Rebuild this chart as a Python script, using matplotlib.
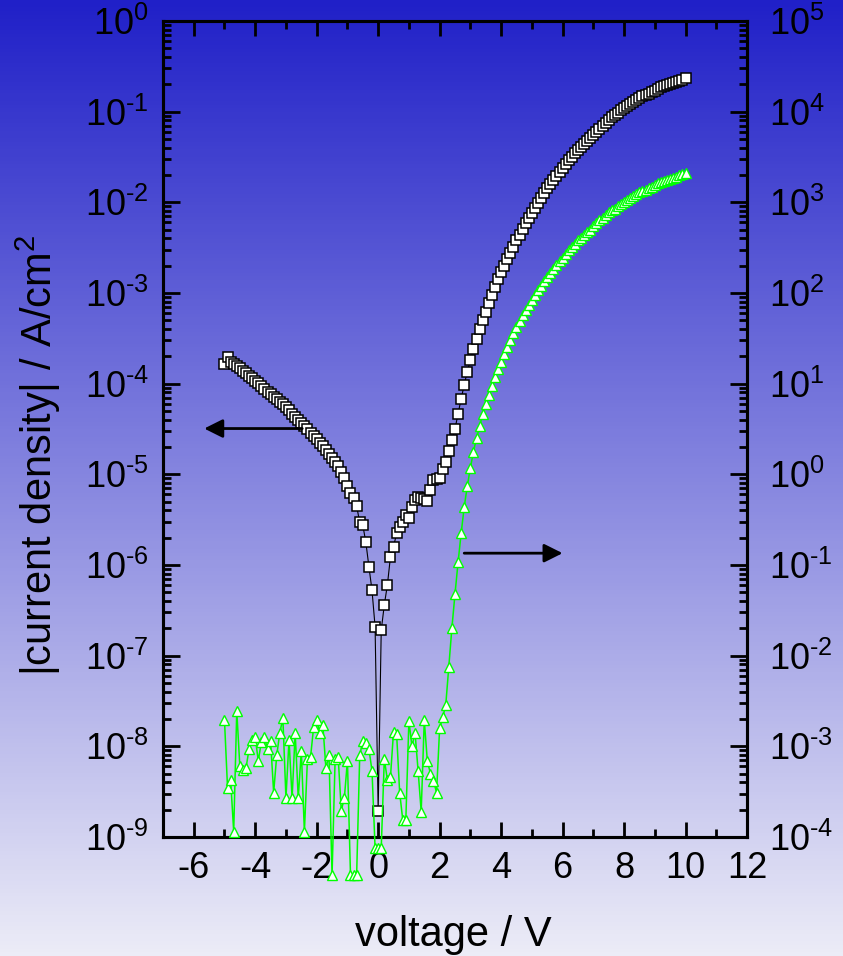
import matplotlib
matplotlib.use("Agg")
import matplotlib.pyplot as plt
import numpy as np
from matplotlib.ticker import FixedLocator, LogLocator, NullFormatter, FuncFormatter

plt.rcParams['font.family'] = ['Liberation Sans', 'DejaVu Sans']
plt.rcParams['mathtext.fontset'] = 'custom'
plt.rcParams['mathtext.rm'] = 'Liberation Sans'
plt.rcParams['axes.unicode_minus'] = False

# voltage sweep, 0.1 V steps from -5 V to 10 V
voltage = np.linspace(-5.0, 10.0, 151)

# log10 |current density| (A/cm2), left axis, black squares
log_j_black = [
    -3.78, -3.71, -3.76, -3.78, -3.80, -3.83, -3.86, -3.88, -3.92, -3.94,
    -3.97, -3.99, -4.03, -4.06, -4.09, -4.11, -4.15, -4.17, -4.20, -4.22,
    -4.26, -4.29, -4.33, -4.37, -4.40, -4.43, -4.47, -4.50, -4.54, -4.58,
    -4.61, -4.65, -4.69, -4.73, -4.78, -4.82, -4.86, -4.91, -4.97, -5.04,
    -5.13, -5.21, -5.26, -5.35, -5.53, -5.56, -5.75, -6.02, -6.28, -6.68,
    -8.71, -6.72, -6.44, -6.22, -5.91, -5.80, -5.65, -5.58, -5.53, -5.45,
    -5.48, -5.36, -5.28, -5.25, -5.26, -5.27, -5.29, -5.17, -5.06, -5.05,
    -5.04, -4.94, -4.86, -4.74, -4.62, -4.50, -4.33, -4.17, -4.01, -3.87,
    -3.74, -3.62, -3.51, -3.40, -3.30, -3.21, -3.11, -3.02, -2.93, -2.85,
    -2.77, -2.70, -2.62, -2.56, -2.49, -2.42, -2.36, -2.29, -2.23, -2.17,
    -2.12, -2.06, -2.01, -1.95, -1.90, -1.84, -1.80, -1.75, -1.71, -1.67,
    -1.62, -1.58, -1.53, -1.50, -1.46, -1.42, -1.39, -1.36, -1.32, -1.29,
    -1.26, -1.22, -1.19, -1.16, -1.12, -1.09, -1.06, -1.04, -1.01, -0.98,
    -0.96, -0.94, -0.92, -0.89, -0.87, -0.85, -0.83, -0.82, -0.80, -0.78,
    -0.77, -0.75, -0.73, -0.72, -0.71, -0.69, -0.68, -0.67, -0.66, -0.65, -0.63,
]

# log10 values on the right axis, green triangles
log_green = [
    -2.71, -3.46, -3.37, -3.94, -2.61, -3.22, -3.26, -3.24, -3.03, -2.93,
    -2.90, -3.16, -2.95, -2.90, -3.03, -2.94, -3.51, -3.10, -2.85, -2.69,
    -3.57, -2.93, -3.57, -2.85, -3.57, -3.05, -3.94, -3.14, -3.12, -2.79,
    -2.71, -2.85, -2.76, -3.24, -3.10, -4.42, -3.14, -3.12, -3.71, -3.57,
    -3.16, -4.42, -4.42, -4.42, -3.10, -2.94, -2.96, -3.03, -3.27, -4.12,
    -4.12, -4.12, -3.14, -3.37, -3.34, -2.84, -2.86, -3.51, -3.81, -3.81,
    -2.72, -3.00, -2.85, -3.27, -3.72, -2.71, -3.16, -3.30, -3.38, -3.51,
    -2.80, -2.68, -2.54, -2.12, -1.69, -1.32, -0.97, -0.65, -0.36, -0.13,
    0.07, 0.25, 0.40, 0.53, 0.67, 0.78, 0.88, 0.97, 1.07, 1.16,
    1.24, 1.33, 1.40, 1.48, 1.56, 1.63, 1.69, 1.76, 1.81, 1.87,
    1.92, 1.98, 2.03, 2.08, 2.13, 2.18, 2.22, 2.27, 2.31, 2.35,
    2.39, 2.43, 2.47, 2.51, 2.54, 2.58, 2.61, 2.64, 2.67, 2.70,
    2.74, 2.77, 2.80, 2.83, 2.86, 2.89, 2.91, 2.93, 2.96, 2.98,
    3.00, 3.03, 3.05, 3.07, 3.09, 3.11, 3.13, 3.14, 3.16, 3.17,
    3.19, 3.21, 3.22, 3.24, 3.25, 3.26, 3.27, 3.28, 3.30, 3.31, 3.32,
]

x_ticks = [-6, -4, -2, 0, 2, 4, 6, 8, 10, 12]
left_exps = list(range(-9, 1))
right_exps = list(range(-4, 6))

# arrows (x tail, x tip, y) in left-axis data units
arrow_left = (-2.47, -5.66, 3.2e-5)
arrow_right = (2.80, 6.0, 1.35e-6)

fig = plt.figure(figsize=(8.43, 9.56), dpi=100)

# gradient background
bg = fig.add_axes([0, 0, 1, 1], zorder=-10)
top = np.array([32, 32, 200]) / 255
bot = np.array([236, 236, 247]) / 255
t = np.linspace(0, 1, 256)[:, None]
grad = (top[None, :] * (1 - t) + bot[None, :] * t)[:, None, :]
bg.imshow(grad, aspect='auto', extent=[0, 1, 0, 1], origin='upper')
bg.axis('off')

ax = fig.add_axes([163 / 843, 1 - 837 / 956, 584 / 843, 816 / 956])
ax.patch.set_visible(False)
ax2 = ax.twinx()
ax2.patch.set_visible(False)

ax.plot(voltage, 10.0 ** np.array(log_j_black), color='black', lw=0.8,
        marker='s', ms=6.5, mfc='white', mec='black', mew=1.1, clip_on=False, zorder=3)
ax2.plot(voltage, 10.0 ** np.array(log_green), color='#00ff00', lw=1.1,
         marker='^', ms=7.5, mfc='white', mec='#00ff00', mew=1.0, clip_on=False, zorder=3)

ax.set_yscale('log')
ax2.set_yscale('log')
ax.set_xlim(-7, 12)
ax.set_ylim(1e-9, 1)
ax2.set_ylim(1e-4, 1e5)

def sup_fmt(v, pos):
    e = int(round(np.log10(v)))
    if e < 0:
        return r'$\mathregular{10^{\text{-}%d}}$' % (-e)
    return r'$\mathregular{10^{%d}}$' % e

for a, exps in ((ax, left_exps), (ax2, right_exps)):
    a.yaxis.set_major_locator(FixedLocator([10.0 ** e for e in exps]))
    a.yaxis.set_minor_locator(LogLocator(base=10, subs=np.arange(2, 10), numticks=50))
    a.yaxis.set_major_formatter(FuncFormatter(sup_fmt))
    a.yaxis.set_minor_formatter(NullFormatter())

ax.xaxis.set_major_locator(FixedLocator(x_ticks))
ax.xaxis.set_minor_locator(FixedLocator(np.arange(-7, 13, 1)))
ax.xaxis.set_major_formatter(FuncFormatter(lambda v, pos: '%d' % v))

ax.tick_params(axis='x', which='both', direction='in', top=True, bottom=True,
               labelsize=26, pad=10, width=2)
ax.tick_params(axis='x', which='major', length=11)
ax.tick_params(axis='x', which='minor', length=6)
ax.tick_params(axis='y', which='both', direction='in', left=True, right=False,
               labelsize=26, pad=10, width=2)
ax.tick_params(axis='y', which='major', length=12)
ax.tick_params(axis='y', which='minor', length=6)
ax2.tick_params(axis='y', which='both', direction='in', right=True,
                labelsize=26, pad=16, width=2)
ax2.tick_params(axis='y', which='major', length=12)
ax2.tick_params(axis='y', which='minor', length=6)

for a in (ax, ax2):
    for s in a.spines.values():
        s.set_linewidth(2.2)

for tail, tip, yy in (arrow_left, arrow_right):
    ax.annotate('', xy=(tip, yy), xytext=(tail, yy),
                arrowprops=dict(arrowstyle='-|>', color='black', lw=2,
                                mutation_scale=28, shrinkA=0, shrinkB=0))

fig.text(38 / 843, 1 - 455 / 956, r'|current density| / A/cm$\mathregular{^2}$',
         rotation=90, ha='center', va='center', fontsize=30)
fig.text(453 / 843, 1 - 935 / 956, 'voltage / V', ha='center', va='center', fontsize=30)

fig.savefig('out.png', dpi=100)
